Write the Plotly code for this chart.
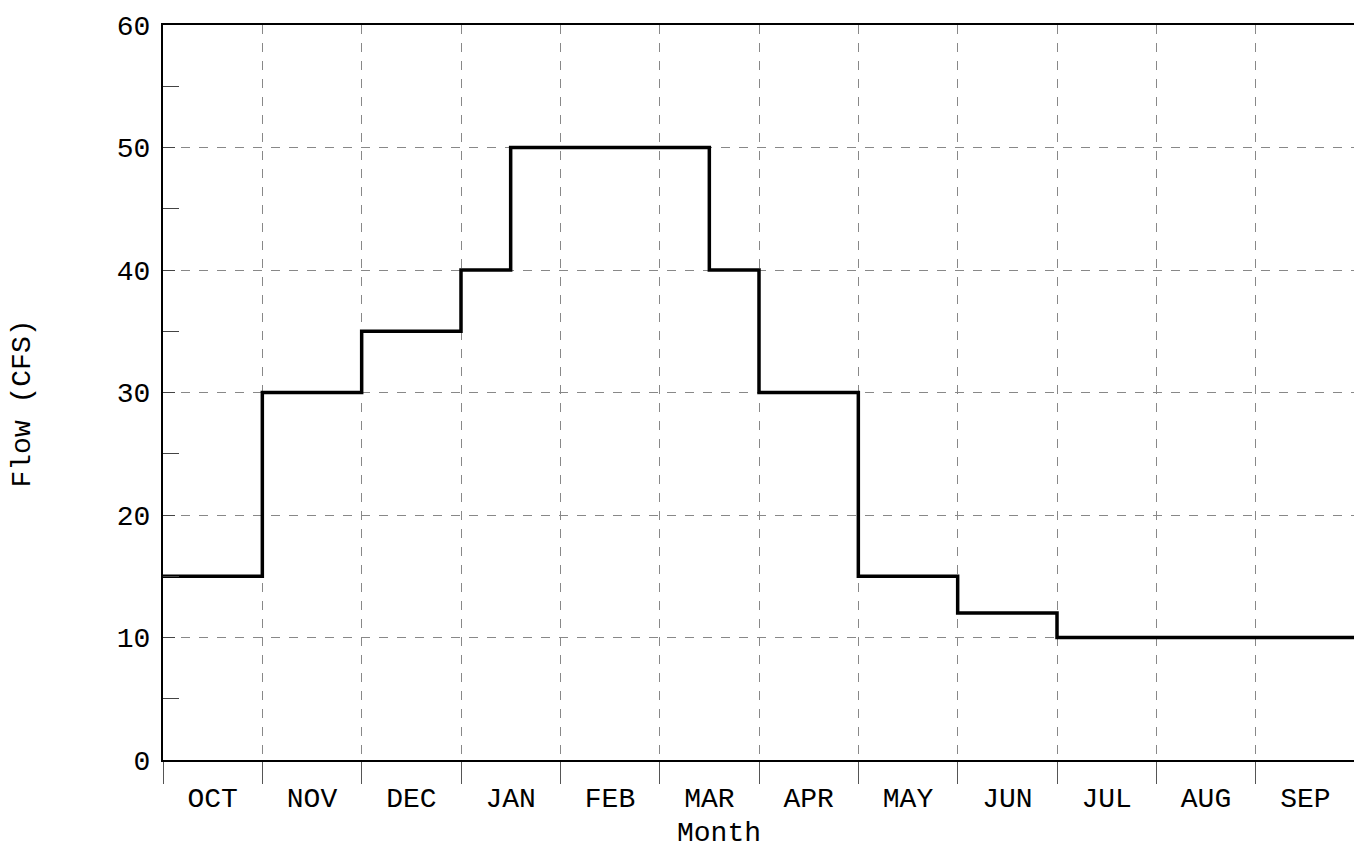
import plotly.graph_objects as go

months = ["OCT", "NOV", "DEC", "JAN", "FEB", "MAR", "APR", "MAY", "JUN", "JUL", "AUG", "SEP"]
# start of each flow period, in months from 1 October
period_start = [0, 1, 2, 3, 3.5, 4, 5, 5.5, 6, 7, 8, 9, 10, 11, 12]
flow_cfs = [15, 30, 35, 40, 50, 50, 50, 40, 30, 15, 12, 10, 10, 10, 10]
y_ticks = [0, 10, 20, 30, 40, 50, 60]

FONT = "Courier New, Liberation Mono, monospace"
FS = 28

fig = go.Figure()
fig.add_trace(go.Scatter(
    x=period_start, y=flow_cfs, mode="lines",
    line=dict(shape="hv", color="black", width=3.5),
    showlegend=False, hoverinfo="skip",
))

fig.update_layout(
    width=1354, height=842,
    margin=dict(l=155, r=7, t=17, b=90),
    paper_bgcolor="white", plot_bgcolor="white",
    font=dict(family=FONT, color="black", size=FS),
    xaxis=dict(
        range=[0, 12], automargin=False,
        tickmode="array",
        tickvals=[i + 0.5 for i in range(len(months))],
        ticktext=months,
        ticks="", showgrid=False, zeroline=False,
        showline=True, linecolor="black", linewidth=2, mirror=True,
        tickfont=dict(size=FS, family=FONT),
        ticklabelstandoff=11,
        minor=dict(tickmode="linear", tick0=0, dtick=1, ticks="outside", ticklen=22,
                   tickcolor="#555", tickwidth=1,
                   showgrid=True, griddash="dash", gridcolor="#888", gridwidth=1),
    ),
    yaxis=dict(
        range=[0, 60], automargin=False,
        tickmode="array", tickvals=y_ticks,
        ticks="inside", ticklen=12, tickcolor="#444", tickwidth=1,
        showgrid=True, griddash="dash", gridcolor="#888", gridwidth=1,
        zeroline=False,
        showline=True, linecolor="black", linewidth=2, mirror=True,
        tickfont=dict(size=FS, family=FONT),
        ticklabelstandoff=5,
        minor=dict(tickmode="linear", tick0=5, dtick=10, ticks="inside", ticklen=16,
                   tickcolor="#444", tickwidth=1, showgrid=False),
    ),
    annotations=[
        dict(text="Month", xref="paper", yref="paper", x=0.5, y=0, xshift=-40, yshift=-73,
             xanchor="center", yanchor="middle", showarrow=False,
             font=dict(size=FS, family=FONT)),
        dict(text="Flow (CFS)", xref="paper", yref="paper", x=0, y=0.5, xshift=-141, yshift=-11,
             xanchor="center", yanchor="middle", textangle=-90, showarrow=False,
             font=dict(size=FS, family=FONT)),
    ],
)

fig.write_html("out.html")
